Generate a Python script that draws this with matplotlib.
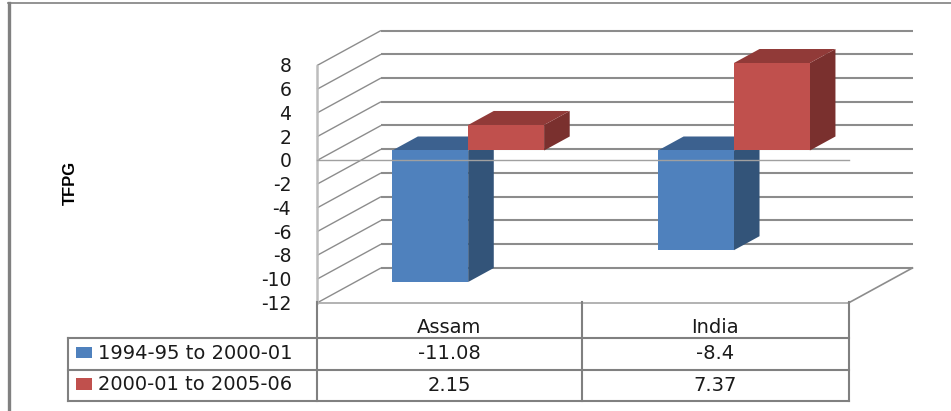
import matplotlib
matplotlib.use('Agg')
import matplotlib.pyplot as plt
from matplotlib.patches import Polygon, Rectangle

# Chart data
categories = ['Assam', 'India']
series_names = ['1994-95 to 2000-01', '2000-01 to 2005-06']
series_a = [-11.08, -8.4]
series_b = [2.15, 7.37]
value_ticks = [8, 6, 4, 2, 0, -2, -4, -6, -8, -10, -12]

# Colours for each bar: front, side, top
blue = ('#4F81BD', '#335479', '#3C618F')
red = ('#C0504D', '#7A302E', '#913A38')
grid_color = '#8C8C8C'
text_color = '#1A1A1A'

W, H = 951, 411
X0, X1 = 317, 848.5   # front plane of the plot, pixels
Y_ZERO = 160.5
PX_PER_UNIT = 11.87
CAT_PX = (X1 - X0) / len(categories)

# Oblique depth of the plot box, in data units
DEPTH_X = 64 / CAT_PX
DEPTH_Y = 35 / PX_PER_UNIT
BAR_W = 1 / 3.5
BAR_MARGIN = 0.75 / 3.5
D_FRONT, D_BACK = 0.286, 0.686


def project(x, v, d=0.0):
    return x + d * DEPTH_X, v + d * DEPTH_Y


def draw_bar(ax, x, value, colors, z):
    lo, hi = min(value, 0), max(value, 0)
    c = [project(x, lo, D_FRONT), project(x + BAR_W, lo, D_FRONT),
         project(x + BAR_W, hi, D_FRONT), project(x, hi, D_FRONT)]
    side = [project(x + BAR_W, lo, D_FRONT), project(x + BAR_W, lo, D_BACK),
            project(x + BAR_W, hi, D_BACK), project(x + BAR_W, hi, D_FRONT)]
    top = [project(x, hi, D_FRONT), project(x + BAR_W, hi, D_FRONT),
           project(x + BAR_W, hi, D_BACK), project(x, hi, D_BACK)]
    ax.add_patch(Polygon(side, closed=True, fc=colors[1], ec='none', zorder=z))
    ax.add_patch(Polygon(top, closed=True, fc=colors[2], ec='none', zorder=z))
    ax.add_patch(Polygon(c, closed=True, fc=colors[0], ec='none', zorder=z + 0.1))


fig = plt.figure(figsize=(W / 100, H / 100), dpi=100)
plt.rcParams['font.family'] = ['DejaVu Sans']

# Data axes over the whole figure: x in categories, y in TFPG
ax = fig.add_axes([0, 0, 1, 1])
ax.set_xlim(-X0 / CAT_PX, (W - X0) / CAT_PX)
ax.set_ylim((Y_ZERO - H) / PX_PER_UNIT, Y_ZERO / PX_PER_UNIT)
ax.axis('off')

# Gridlines on the side and back walls
n = len(categories)
for v in value_ticks:
    xs, ys = zip(project(0, v), project(0, v, 1))
    ax.plot(xs, ys, color=grid_color, lw=1.0, zorder=1, solid_capstyle='butt')
    xs, ys = zip(project(0, v, 1), project(n, v, 1))
    ax.plot(xs, ys, color=grid_color, lw=1.5, zorder=1, solid_capstyle='butt')

# Floor edges and front axis lines
xs, ys = zip(project(n, -12, 1), project(n, -12))
ax.plot(xs, ys, color=grid_color, lw=1.2, zorder=1)
ax.plot([0, n], [-12, -12], color='#A6A6A6', lw=1.2, zorder=1)
ax.plot([0, 0], [-12, 8], color='#BDBDBD', lw=1.8, zorder=1)

# Bars
for i in range(n):
    x = i + BAR_MARGIN
    draw_bar(ax, x, series_a[i], blue, 2)
    draw_bar(ax, x + BAR_W, series_b[i], red, 3)

# Zero line runs across the front of the blue bars
ax.plot([0, n], [0, 0], color='#A0A0A0', lw=1.0, zorder=4)

for v in value_ticks:
    ax.text(-0.097, v - 0.12, str(v), ha='right', va='center', fontsize=13.5,
            color=text_color, zorder=5)

# Page-space axes for the frame and the data table
page = fig.add_axes([0, 0, 1, 1], facecolor='none')
page.set_xlim(0, W)
page.set_ylim(H, 0)
page.axis('off')

page.plot([8.5, 8.5], [3, H - 1], color='#808080', lw=2.4, zorder=1)
page.plot([8, W], [3.5, 3.5], color='#808080', lw=1.2, zorder=1)

page.text(70.5, 183, 'TFPG', rotation=90, ha='center', va='center', fontsize=12,
          fontweight='bold', family='Liberation Sans', color='black')

# Data table under the plot
row_y = [337.5, 369.5, 400.5]
col_x = [67.5, X0, 582, X1]
for y in row_y:
    page.plot([col_x[0], col_x[-1]], [y, y], color='#808080', lw=1.5, zorder=2)
page.plot([col_x[0]] * 2, [row_y[0], row_y[-1]], color='#808080', lw=1.5, zorder=2)
for x in col_x[1:]:
    page.plot([x, x], [302, row_y[-1]], color='#808080', lw=1.5, zorder=2)

centers = [449.5, 715]
table_font = 14
for cx, cat, a, b in zip(centers, categories, series_a, series_b):
    page.text(cx, 327, cat, ha='center', va='center', fontsize=table_font, color=text_color)
    page.text(cx, 353.5, str(a), ha='center', va='center', fontsize=table_font, color=text_color)
    page.text(cx, 385.5, str(b), ha='center', va='center', fontsize=table_font, color=text_color)

# Legend keys and series names in the first table column
page.add_patch(Rectangle((76, 347), 16, 10.5, fc=blue[0], ec='none', zorder=3))
page.add_patch(Rectangle((76, 378), 16, 11.5, fc=red[0], ec='none', zorder=3))
first = page.text(98, 353, series_names[0], ha='left', va='center', fontsize=table_font,
                  color=text_color)
page.text(98, 384, series_names[1], ha='left', va='center', fontsize=table_font, color=text_color)

# The first series name is cut off along its lower edge
first.set_clip_path(Rectangle((90, 340), 225, 16.5, transform=page.transData))

fig.savefig('out.png', dpi=100)
